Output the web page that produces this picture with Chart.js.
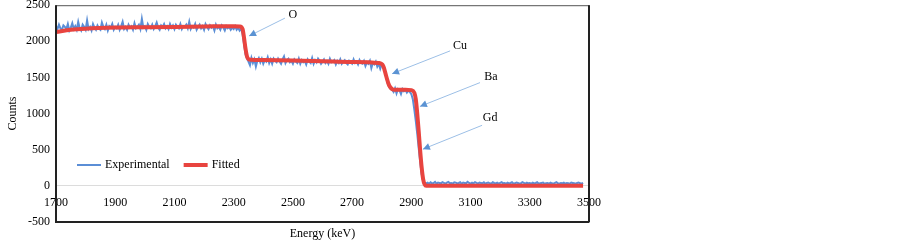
<!DOCTYPE html>
<html>
<head>
<meta charset="utf-8">
<script src="https://cdn.jsdelivr.net/npm/chart.js@4.4.1/dist/chart.umd.min.js"></script>
<style>
  html, body { margin: 0; padding: 0; background: #fff; }
  #wrap { width: 903px; height: 243px; }
</style>
</head>
<body>
<div id="wrap"><canvas id="rbsChart"></canvas></div>
<script>
// energy channels of the measured spectrum (keV)
const energyStart = 1700;
const energyStep = 5;

const experimentalCounts = [
  // 1700 - 2325 : top plateau
  2210, 2170, 2230, 2180, 2160, 2220, 2200, 2170, 2240, 2150,
  2190, 2250, 2170, 2210, 2160, 2270, 2180, 2150, 2230, 2200,
  2160, 2290, 2170, 2200, 2150, 2240, 2190, 2160, 2220, 2180,
  2160, 2260, 2200, 2170, 2230, 2150, 2210, 2190, 2240, 2160,
  2200, 2180, 2230, 2160, 2210, 2270, 2170, 2200, 2160, 2230,
  2190, 2210, 2160, 2250, 2180, 2200, 2230, 2170, 2310, 2190,
  2210, 2160, 2240, 2200, 2180, 2230, 2170, 2210, 2260, 2190,
  2160, 2220, 2200, 2240, 2180, 2210, 2170, 2240, 2190, 2220,
  2170, 2230, 2200, 2180, 2240, 2170, 2210, 2200, 2230, 2180,
  2270, 2170, 2210, 2190, 2240, 2160, 2200, 2230, 2180, 2210,
  2160, 2240, 2200, 2170, 2220, 2190, 2210, 2150, 2230, 2180,
  2200, 2160, 2220, 2190, 2150, 2210, 2180, 2200, 2160, 2190,
  2170, 2210, 2160, 2190, 2150, 2180,
  // 2330 - 2350 : O edge
  2100, 1960, 1820, 1760, 1720,
  // 2355 - 2795 : second plateau
  1670, 1770, 1700, 1750, 1650, 1730, 1770, 1710, 1760, 1690,
  1740, 1720, 1780, 1700, 1750, 1690, 1760, 1730, 1710, 1760,
  1720, 1690, 1750, 1790, 1700, 1740, 1760, 1710, 1730, 1690,
  1750, 1720, 1700, 1760, 1690, 1740, 1710, 1730, 1680, 1750,
  1720, 1700, 1770, 1690, 1740, 1710, 1760, 1730, 1690, 1720,
  1750, 1700, 1730, 1690, 1760, 1710, 1720, 1740, 1680, 1730,
  1700, 1750, 1690, 1720, 1740, 1700, 1680, 1730, 1710, 1690,
  1750, 1700, 1720, 1680, 1740, 1700, 1690, 1730, 1660, 1710,
  1690, 1730, 1630, 1700, 1680, 1720, 1650, 1690, 1620,
  // 2800 - 2835 : Cu edge
  1680, 1650, 1590, 1500, 1420, 1370, 1340, 1330,
  // 2840 - 2900 : Ba plateau
  1300, 1350, 1280, 1340, 1320, 1270, 1340, 1310, 1330, 1290,
  1320, 1300, 1270,
  // 2905 - 2950 : Ba / Gd edge
  1200, 1060, 900, 720, 520, 330, 160, 70, 40, 35,
  // 2955 - 3480 : background
  45, 30, 50, 35, 40, 55, 30, 45, 40, 35,
  50, 40, 30, 45, 55, 35, 40, 30, 50, 45,
  35, 40, 50, 30, 45, 40, 35, 55, 40, 30,
  45, 35, 50, 40, 30, 45, 40, 35, 50, 30,
  40, 45, 35, 30, 50, 40, 35, 45, 30, 40,
  50, 35, 40, 30, 45, 35, 40, 50, 30, 35,
  45, 40, 30, 35, 50, 40, 30, 45, 35, 40,
  30, 45, 35, 40, 50, 30, 35, 40, 45, 30,
  35, 40, 30, 45, 35, 30, 40, 50, 35, 30,
  40, 35, 45, 30, 40, 35, 30, 45, 40, 35,
  30, 40, 45, 35, 30, 40
];

// fitted curve
const fittedEnergy = [1700, 1750, 1800, 1900, 2000, 2100, 2200, 2300, 2320, 2330,
  2335, 2340, 2345, 2350, 2360, 2400, 2500, 2600, 2700, 2790,
  2805, 2815, 2825, 2835, 2845, 2880, 2900, 2910, 2915, 2920,
  2925, 2930, 2935, 2940, 2945, 2950, 2960, 3000, 3200, 3480];
const fittedCounts = [2130, 2160, 2175, 2190, 2195, 2200, 2205, 2210, 2205, 2170,
  2050, 1900, 1790, 1755, 1745, 1740, 1735, 1725, 1715, 1700,
  1660, 1520, 1390, 1340, 1330, 1330, 1325, 1290, 1200, 1000,
  750, 480, 250, 90, 20, 0, 0, 0, 0, 0];

// axis ticks
const xTicks = [1700, 1900, 2100, 2300, 2500, 2700, 2900, 3100, 3300, 3500];
const yTicks = [-500, 0, 500, 1000, 1500, 2000, 2500];

// edge labels: text position, arrow start, arrow tip (data units)
const edgeNames = ['O', 'Cu', 'Ba', 'Gd'];
const edgeTextE = [2500, 3064, 3169, 3166];
const edgeTextC = [2363, 1937, 1511, 948];
const edgeFromE = [2473, 3031, 3132, 3139];
const edgeFromC = [2321, 1868, 1429, 838];
const edgeTipE = [2352, 2835, 2929, 2939];
const edgeTipC = [2074, 1552, 1099, 508];

const serif = "'Liberation Serif', 'Times New Roman', serif";
const blue = '#5b8ed6';
const red = '#e8443f';

const experimentalPoints = experimentalCounts.map((c, i) => ({ x: energyStart + i * energyStep, y: c }));
const fittedPoints = fittedEnergy.map((e, i) => ({ x: e, y: fittedCounts[i] }));

// cadre + fleches + legende
const decorPlugin = {
  id: 'decor',
  afterDraw(chart) {
    const ctx = chart.ctx;
    const a = chart.chartArea;
    const xs = chart.scales.x;
    const ys = chart.scales.y;
    ctx.save();
    // frame
    ctx.strokeStyle = '#555';
    ctx.lineWidth = 1;
    ctx.strokeRect(a.left, a.top + 0.5, a.right - a.left, a.bottom - a.top);
    ctx.strokeStyle = '#222';
    ctx.lineWidth = 2;
    ctx.beginPath();
    ctx.moveTo(a.left, a.top);
    ctx.lineTo(a.left, a.bottom);
    ctx.lineTo(a.right, a.bottom);
    ctx.moveTo(a.right, a.top);
    ctx.lineTo(a.right, a.bottom);
    ctx.stroke();

    // arrows
    ctx.font = '12px ' + serif;
    ctx.textAlign = 'center';
    ctx.textBaseline = 'middle';
    edgeNames.forEach((name, i) => {
      const x0 = xs.getPixelForValue(edgeFromE[i]);
      const y0 = ys.getPixelForValue(edgeFromC[i]);
      const x1 = xs.getPixelForValue(edgeTipE[i]);
      const y1 = ys.getPixelForValue(edgeTipC[i]);
      ctx.strokeStyle = '#9cbfe6';
      ctx.lineWidth = 1;
      ctx.beginPath();
      ctx.moveTo(x0, y0);
      ctx.lineTo(x1, y1);
      ctx.stroke();
      const ang = Math.atan2(y1 - y0, x1 - x0);
      const len = 7, half = 3.5;
      ctx.fillStyle = '#5b93d3';
      ctx.beginPath();
      ctx.moveTo(x1, y1);
      ctx.lineTo(x1 - len * Math.cos(ang) + half * Math.sin(ang), y1 - len * Math.sin(ang) - half * Math.cos(ang));
      ctx.lineTo(x1 - len * Math.cos(ang) - half * Math.sin(ang), y1 - len * Math.sin(ang) + half * Math.cos(ang));
      ctx.closePath();
      ctx.fill();
      ctx.fillStyle = '#000';
      ctx.fillText(name, xs.getPixelForValue(edgeTextE[i]), ys.getPixelForValue(edgeTextC[i]));
    });

    // legend
    const ly = a.bottom - 57;
    let lx = a.left + 21;
    ctx.textAlign = 'left';
    chart.data.datasets.forEach(ds => {
      ctx.strokeStyle = ds.borderColor;
      ctx.lineWidth = ds.borderWidth;
      ctx.beginPath();
      ctx.moveTo(lx, ly);
      ctx.lineTo(lx + 24, ly);
      ctx.stroke();
      ctx.fillStyle = '#000';
      ctx.fillText(ds.label, lx + 28, ly);
      lx += 28 + ctx.measureText(ds.label).width + 14;
    });
    ctx.restore();
  }
};

const ctx = document.getElementById('rbsChart').getContext('2d');
new Chart(ctx, {
  type: 'line',
  data: {
    datasets: [{
      label: 'Experimental',
      data: experimentalPoints,
      borderColor: blue,
      borderWidth: 2,
      pointRadius: 0,
      tension: 0,
      order: 2
    }, {
      label: 'Fitted',
      data: fittedPoints,
      borderColor: red,
      borderWidth: 4,
      pointRadius: 0,
      cubicInterpolationMode: 'monotone',
      order: 1
    }]
  },
  options: {
    responsive: true,
    maintainAspectRatio: false,
    animation: false,
    events: [],
    layout: { padding: { top: 4, right: 314, left: 4, bottom: 0 } },
    plugins: {
      legend: { display: false },
      tooltip: { enabled: false }
    },
    scales: {
      x: {
        type: 'linear',
        position: { y: 0 },
        min: xTicks[0],
        max: xTicks[xTicks.length - 1],
        afterBuildTicks: s => { s.ticks = xTicks.map(v => ({ value: v })); },
        ticks: { font: { family: serif, size: 12 }, color: '#000', padding: 2, maxRotation: 0, callback: v => String(v) },
        grid: { display: false },
        border: { display: true, color: '#dcdcdc', width: 1 }
      },
      x2: {
        type: 'linear',
        position: 'bottom',
        min: xTicks[0],
        max: xTicks[xTicks.length - 1],
        ticks: { display: false },
        grid: { display: false },
        border: { display: false },
        title: { display: true, text: 'Energy (keV)', font: { family: serif, size: 12 }, color: '#000', padding: { top: 3, bottom: 2 } },
        afterFit: s => { s.height = 21; }
      },
      y: {
        type: 'linear',
        min: yTicks[0],
        max: yTicks[yTicks.length - 1],
        afterBuildTicks: s => { s.ticks = yTicks.map(v => ({ value: v })); },
        ticks: { font: { family: serif, size: 12 }, color: '#000', padding: -2, callback: v => String(v) },
        grid: { display: false },
        border: { display: false },
        title: { display: true, text: 'Counts', font: { family: serif, size: 12 }, color: '#000', padding: { top: 2, bottom: 0 } },
        afterFit: s => { s.width = 52; }
      }
    }
  },
  plugins: [decorPlugin]
});
</script>
</body>
</html>
